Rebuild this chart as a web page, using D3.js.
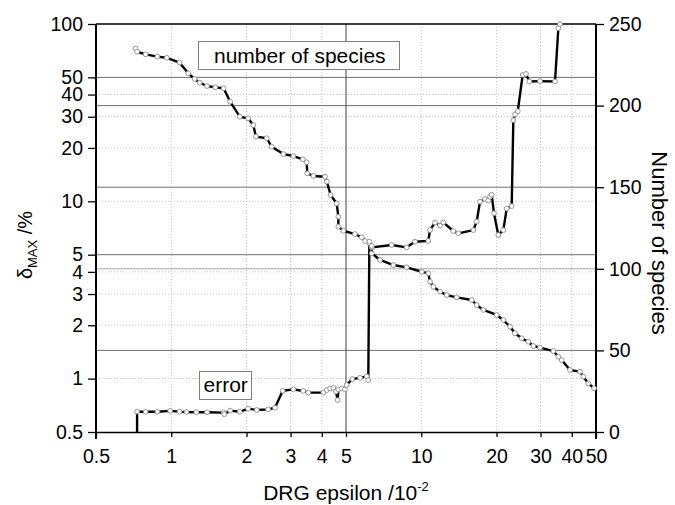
<!DOCTYPE html>
<html>
<head>
<meta charset="utf-8">
<script src="https://cdn.jsdelivr.net/npm/d3@7"></script>
<style>
body { margin: 0; background: #fff; }
text { font-family: "Liberation Sans", Arial, sans-serif; fill: #000; }
.tick text { font-size: 19.5px; }
</style>
</head>
<body>
<svg id="viz" width="675" height="505"></svg>
<script>
// number of species vs DRG epsilon (right axis)
var speciesEps = [0.72,0.73,0.79,0.88,0.96,1.08,1.17,1.24,1.30,1.39,1.50,1.62,1.72,1.88,2.03,2.13,2.18,2.41,2.52,2.81,3.08,3.36,3.48,3.50,3.70,4.12,4.19,4.34,4.59,4.66,4.66,4.88,5.43,5.78,5.96,6.20,6.34,6.34,6.84,7.73,8.74,10.05,10.67,10.84,11.18,11.89,12.64,13.86,15.92,16.66,17.71,20.04,21.29,22.65,23.71,25.22,26.8,28.07,29.85,33.76,35.35,36.47,39.35,43.15,44.48,46.58,49.1];
var speciesCount = [235,233,231.4,230,229.3,226.3,219.8,216.3,214,212,211.2,210.6,202.4,193.2,192.2,188,181,180,174.8,170.3,169.1,167.1,165.3,158.5,156.9,156.4,153.4,145.2,140,131.9,125.8,123.3,121.3,119.3,117,116.6,114,109.5,105.4,102.3,100.9,98.2,97.2,92.1,89,86,83.9,82.5,80.9,77.8,74.8,71.7,68.6,64.5,60.5,57.4,55.3,52.7,51.7,49.6,46.1,44.1,38,37,33.9,29.8,26.8];

// max error vs DRG epsilon (left log axis)
var errorEps = [0.73,0.73,0.79,0.88,0.99,1.08,1.15,1.26,1.39,1.62,1.63,1.72,1.88,2.03,2.20,2.44,2.60,2.79,3.08,3.37,3.53,4.06,4.19,4.32,4.45,4.56,4.63,4.66,4.81,4.95,5.03,5.30,5.69,6.05,6.14,6.20,6.34,7.62,8.74,9.44,10.67,10.84,11.35,11.89,12.25,13.43,14.07,16.16,16.66,17.18,17.99,18.55,18.84,19.13,19.54,20.33,21.29,21.97,23.0,23.35,23.71,24.32,25.45,26.24,27.05,29.85,34.27,35.35,35.89];
var errorPct = [0.5,0.651,0.65,0.65,0.658,0.651,0.648,0.646,0.646,0.643,0.63,0.66,0.65,0.677,0.665,0.671,0.685,0.854,0.87,0.852,0.834,0.834,0.862,0.88,0.885,0.846,0.757,0.87,0.88,0.87,0.92,0.995,1.01,1.03,0.98,5.8,5.5,5.67,5.5,5.92,5.98,6.89,7.58,7.3,7.6,6.8,6.6,6.88,7.69,9.95,10.3,10.1,10.6,10.9,8.56,6.46,6.88,9.1,9.4,28.7,30.9,32.2,51.6,52.3,47.4,47.6,47.4,94.6,100];

var xTicks = [0.5,1,2,3,4,5,10,20,30,40,50];
var leftTicks = [0.5,1,2,3,4,5,10,20,30,40,50,100];
var rightTicks = [0,50,100,150,200,250];
var leftSolid = [5,50];
var rightSolid = [50,100,150,200];

var margins = {top: 24, right: 79, bottom: 73, left: 96};

var svg = d3.select("#viz"),
    width = +svg.attr("width") - margins.left - margins.right,
    height = +svg.attr("height") - margins.top - margins.bottom,
    g = svg.append("g").attr("transform", "translate(" + margins.left + "," + margins.top + ")");

var xScale = d3.scaleLog().domain([0.5, 50]).range([0, width]);
var yLeft = d3.scaleLog().domain([0.5, 100]).range([height, 0]);
var yRight = d3.scaleLinear().domain([0, 250]).range([height, 0]);

// dotted grid
var grid = g.append("g");
xTicks.filter(function(d){ return d != 0.5 && d != 5 && d != 50; }).forEach(function(d){
  grid.append("line").attr("x1", xScale(d)).attr("x2", xScale(d)).attr("y1", 0).attr("y2", height)
    .attr("stroke", "#c4c4c4").attr("stroke-dasharray", "1,2");
});
leftTicks.filter(function(d){ return leftSolid.indexOf(d) < 0 && d != 0.5 && d != 100; }).forEach(function(d){
  grid.append("line").attr("x1", 0).attr("x2", width).attr("y1", yLeft(d)).attr("y2", yLeft(d))
    .attr("stroke", "#c4c4c4").attr("stroke-dasharray", "1,2");
});
// solid reference lines
leftSolid.forEach(function(d){
  grid.append("line").attr("x1", 0).attr("x2", width).attr("y1", yLeft(d)).attr("y2", yLeft(d))
    .attr("stroke", "#707070");
});
rightSolid.forEach(function(d){
  grid.append("line").attr("x1", 0).attr("x2", width).attr("y1", yRight(d)).attr("y2", yRight(d))
    .attr("stroke", d == 100 ? "#a8a8a8" : "#707070");
});
grid.append("line").attr("x1", xScale(5)).attr("x2", xScale(5)).attr("y1", 0).attr("y2", height)
  .attr("stroke", "#404040");

// axes
var fmt = function(d){ return String(d); };
g.append("g").attr("transform", "translate(0," + height + ")")
  .call(d3.axisBottom(xScale).tickValues(xTicks).tickFormat(fmt).tickSize(5).tickSizeOuter(0).tickPadding(12))
  .call(function(a){ a.select(".domain").attr("stroke-width", 1.5); });
g.append("g")
  .call(d3.axisLeft(yLeft).tickValues(leftTicks).tickFormat(fmt).tickSize(8).tickSizeOuter(0).tickPadding(5))
  .call(function(a){ a.select(".domain").remove(); });
g.append("g").attr("transform", "translate(" + width + ",0)")
  .call(d3.axisRight(yRight).tickValues(rightTicks).tickFormat(fmt).tickSize(8).tickSizeOuter(0).tickPadding(5))
  .call(function(a){ a.select(".domain").remove(); });
g.selectAll(".tick line").attr("stroke", "#000").attr("stroke-width", 1.3);

// frame
g.append("line").attr("x1", 0).attr("x2", width).attr("y1", 0).attr("y2", 0).attr("stroke", "#000").attr("stroke-width", 1.5);
g.append("line").attr("x1", 0).attr("x2", 0).attr("y1", 0).attr("y2", height + 7).attr("stroke", "#000").attr("stroke-width", 2);
g.append("line").attr("x1", width).attr("x2", width).attr("y1", 0).attr("y2", height + 7).attr("stroke", "#000").attr("stroke-width", 2);

// series
var speciesData = speciesEps.map(function(e, i){ return {x: e, y: speciesCount[i]}; });
var errorData = errorEps.map(function(e, i){ return {x: e, y: errorPct[i]}; });

var speciesLine = d3.line().x(function(d){ return xScale(d.x); }).y(function(d){ return yRight(d.y); });
var errorLine = d3.line().x(function(d){ return xScale(d.x); }).y(function(d){ return yLeft(d.y); });

g.append("path").datum(errorData).attr("d", errorLine)
  .attr("fill", "none").attr("stroke", "#000").attr("stroke-width", 2.4).attr("stroke-linejoin", "round");
g.append("path").datum(speciesData).attr("d", speciesLine)
  .attr("fill", "none").attr("stroke", "#000").attr("stroke-width", 2.4).attr("stroke-linejoin", "round");

g.selectAll(".errPt").data(errorData.filter(function(d){ return d.y > 0.5; })).enter().append("circle")
  .attr("cx", function(d){ return xScale(d.x); }).attr("cy", function(d){ return yLeft(d.y); })
  .attr("r", 2.4).attr("fill", "#fff").attr("stroke", "#8c8c8c").attr("stroke-width", 0.9);
g.selectAll(".spPt").data(speciesData).enter().append("circle")
  .attr("cx", function(d){ return xScale(d.x); }).attr("cy", function(d){ return yRight(d.y); })
  .attr("r", 2.4).attr("fill", "#fff").attr("stroke", "#8c8c8c").attr("stroke-width", 0.9);

// labels in boxes
svg.append("rect").attr("x", 198.5).attr("y", 41.5).attr("width", 201).attr("height", 28)
  .attr("fill", "#fff").attr("stroke", "#808080");
svg.append("text").attr("x", 214).attr("y", 63).attr("font-size", "21px").text("number of species");
svg.append("rect").attr("x", 199.5).attr("y", 371.5).attr("width", 52).attr("height", 28)
  .attr("fill", "#fff").attr("stroke", "#808080");
svg.append("text").attr("x", 203.5).attr("y", 392).attr("font-size", "21px").text("error");

// axis titles
var xt = svg.append("text").attr("x", 346).attr("y", 500).attr("text-anchor", "middle").attr("font-size", "21px");
xt.append("tspan").text("DRG epsilon /10");
xt.append("tspan").attr("font-size", "13px").attr("dy", -9).text("-2");

var lt = svg.append("text").attr("transform", "translate(32,245) rotate(-90)").attr("text-anchor", "middle").attr("font-size", "20px");
lt.append("tspan").text("δ");
lt.append("tspan").attr("font-size", "13px").attr("dy", 5).text("MAX");
lt.append("tspan").attr("dy", -5).text(" /%");

svg.append("text").attr("transform", "translate(652,243) rotate(90)").attr("text-anchor", "middle")
  .attr("font-size", "22px").text("Number of species");
</script>
</body>
</html>
